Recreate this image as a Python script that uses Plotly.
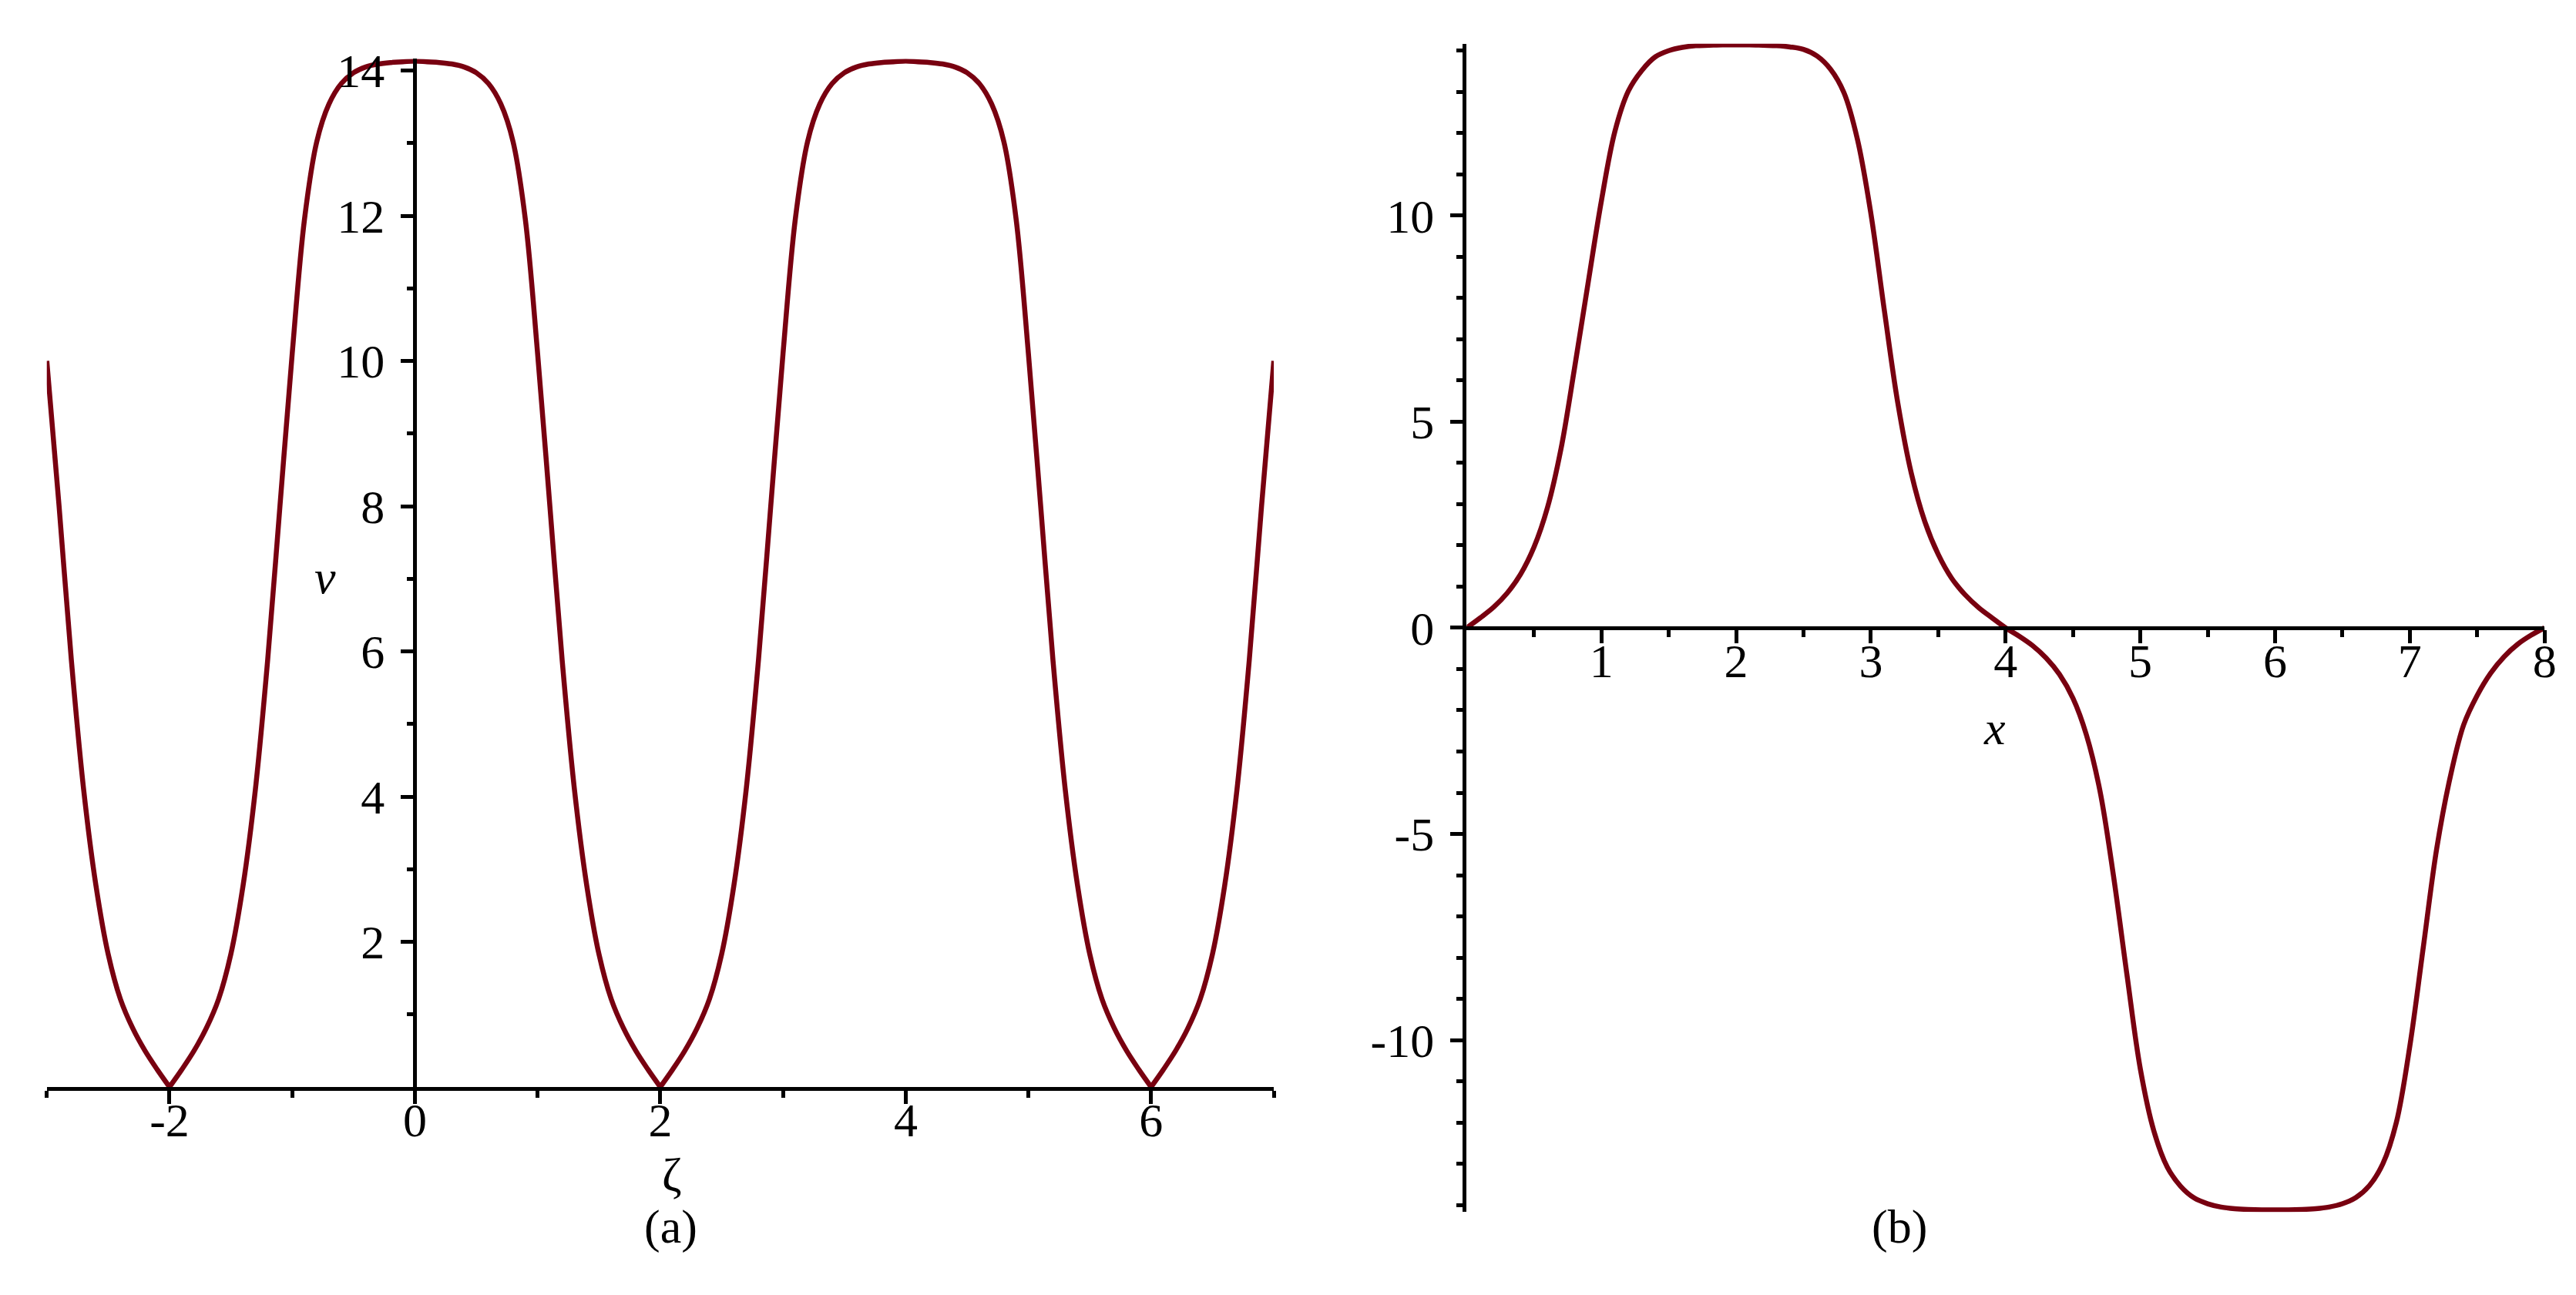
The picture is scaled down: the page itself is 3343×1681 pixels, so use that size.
import plotly.graph_objs as go

# (a) v against zeta
zeta = [-3.0, -2.9, -2.8, -2.7, -2.6, -2.5, -2.4, -2.3, -2.2, -2.1,
        -2.0, -1.9, -1.8, -1.7, -1.6, -1.5, -1.4, -1.3, -1.2, -1.1,
        -1.0, -0.9, -0.8, -0.7, -0.6, -0.5, -0.4, -0.3, -0.2, -0.1,
        0.0, 0.1, 0.2, 0.3, 0.4, 0.5, 0.6, 0.7, 0.8, 0.9,
        1.0, 1.1, 1.2, 1.3, 1.4, 1.5, 1.6, 1.7, 1.8, 1.9,
        2.0, 2.1, 2.2, 2.3, 2.4, 2.5, 2.6, 2.7, 2.8, 2.9,
        3.0, 3.1, 3.2, 3.3, 3.4, 3.5, 3.6, 3.7, 3.8, 3.9,
        4.0, 4.1, 4.2, 4.3, 4.4, 4.5, 4.6, 4.7, 4.8, 4.9,
        5.0, 5.1, 5.2, 5.3, 5.4, 5.5, 5.6, 5.7, 5.8, 5.9,
        6.0, 6.1, 6.2, 6.3, 6.4, 6.5, 6.6, 6.7, 6.8, 6.9, 7.0]
v = [10.0, 8.00, 5.88, 4.10, 2.78, 1.83, 1.21, 0.81, 0.50, 0.24,
     0.0, 0.24, 0.50, 0.81, 1.21, 1.83, 2.78, 4.10, 5.88, 8.00,
     10.10, 11.95, 13.02, 13.54, 13.82, 13.97, 14.05, 14.09, 14.11, 14.12,
     14.13, 14.12, 14.11, 14.09, 14.05, 13.97, 13.82, 13.54, 13.02, 11.95,
     10.10, 8.00, 5.88, 4.10, 2.78, 1.83, 1.21, 0.81, 0.50, 0.24,
     0.0, 0.24, 0.50, 0.81, 1.21, 1.83, 2.78, 4.10, 5.88, 8.00,
     10.10, 11.95, 13.02, 13.54, 13.82, 13.97, 14.05, 14.09, 14.11, 14.12,
     14.13, 14.12, 14.11, 14.09, 14.05, 13.97, 13.82, 13.54, 13.02, 11.95,
     10.10, 8.00, 5.88, 4.10, 2.78, 1.83, 1.21, 0.81, 0.50, 0.24,
     0.0, 0.24, 0.50, 0.81, 1.21, 1.83, 2.78, 4.10, 5.88, 8.00, 10.0]
cusp_idx = [0, 10, 50, 90, 100]   # where the curve touches zero (plus the ends)

# (b) u against x
xb = [0.0, 0.1, 0.2, 0.3, 0.4, 0.5, 0.6, 0.7, 0.8, 0.9,
      1.0, 1.1, 1.2, 1.3, 1.4, 1.5, 1.6, 1.7, 1.8, 1.9,
      2.0, 2.1, 2.2, 2.3, 2.4, 2.5, 2.6, 2.7, 2.8, 2.9,
      3.0, 3.1, 3.2, 3.3, 3.4, 3.5, 3.6, 3.7, 3.8, 3.9,
      4.0, 4.1, 4.2, 4.3, 4.4, 4.5, 4.6, 4.7, 4.8, 4.9,
      5.0, 5.1, 5.2, 5.3, 5.4, 5.5, 5.6, 5.7, 5.8, 5.9,
      6.0, 6.1, 6.2, 6.3, 6.4, 6.5, 6.6, 6.7, 6.8, 6.9,
      7.0, 7.1, 7.2, 7.3, 7.4, 7.5, 7.6, 7.7, 7.8, 7.9, 8.0]
u = [0.0, 0.24, 0.50, 0.84, 1.30, 1.96, 2.92, 4.34, 6.29, 8.34,
     10.36, 12.04, 13.02, 13.52, 13.85, 14.00, 14.08, 14.12, 14.13, 14.14,
     14.14, 14.14, 14.13, 14.12, 14.09, 14.03, 13.87, 13.55, 12.98, 11.85,
     10.05, 7.70, 5.45, 3.75, 2.58, 1.78, 1.20, 0.80, 0.49, 0.24,
     0.0, -0.20, -0.43, -0.73, -1.13, -1.71, -2.60, -3.95, -6.00, -8.40,
     -10.70, -12.20, -13.08, -13.55, -13.83, -13.97, -14.05, -14.09, -14.11, -14.12,
     -14.12, -14.12, -14.11, -14.09, -14.05, -13.97, -13.82, -13.53, -13.00, -12.00,
     -10.15, -7.75, -5.35, -3.62, -2.35, -1.64, -1.10, -0.70, -0.40, -0.18, 0.0]

a_xticks = [-2, 0, 2, 4, 6]
a_xminor = [-3, -1, 1, 3, 5, 7]
a_yticks = [2, 4, 6, 8, 10, 12, 14]
a_yminor = [1, 3, 5, 7, 9, 11, 13]
b_xticks = [1, 2, 3, 4, 5, 6, 7, 8]
b_xminor = [0.5, 1.5, 2.5, 3.5, 4.5, 5.5, 6.5, 7.5]
b_yticks = [-10, -5, 0, 5, 10]
b_yminor = [-14, -13, -12, -11, -9, -8, -7, -6, -4, -3, -2, -1,
            1, 2, 3, 4, 6, 7, 8, 9, 11, 12, 13, 14]

W, H = 3343, 1681
RED = 'rgb(120,0,16)'
FONT = 'Liberation Serif'
FS = 62

def px_x(p):
    return p / W

def px_y(p):
    return 1 - p / H

# panel boxes in pixels (left, right, top, bottom)
ax_l, ax_r, ax_t, ax_b = 53, 1653, 51, 1400
bx_l, bx_r, bx_t, bx_b = 1904.5, 3310, 31, 1564

curve = dict(color=RED, width=6.5, shape='spline', smoothing=1)

data = []
for i in range(len(cusp_idx) - 1):
    s, e = cusp_idx[i], cusp_idx[i + 1]
    data.append(go.Scatter(x=zeta[s:e + 1], y=v[s:e + 1], mode='lines', line=curve,
                           xaxis='x', yaxis='y', hoverinfo='skip'))
data.append(go.Scatter(x=xb, y=u, mode='lines', line=curve,
                       xaxis='x2', yaxis='y2', hoverinfo='skip'))

common = dict(showline=True, linecolor='black', linewidth=4.5, ticks='outside',
              tickcolor='black', tickwidth=4.5, ticklen=17, showgrid=False,
              zeroline=False, tickfont=dict(family=FONT, size=FS, color='black'))
minor = dict(ticks='outside', ticklen=9, tickwidth=4.5, tickcolor='black')

a_ypos = px_x(ax_l + (0 - (-3)) / 10 * (ax_r - ax_l))
b_xpos = px_y((bx_t + bx_b) / 2)

layout = go.Layout(
    width=W, height=H, margin=dict(l=0, r=0, t=0, b=0),
    paper_bgcolor='white', plot_bgcolor='white', showlegend=False,
    xaxis=dict(domain=[px_x(ax_l), px_x(ax_r)], range=[-3, 7], anchor='y',
               tickvals=a_xticks, ticktext=['-2', '0', '2', '4', '6'],
               minor=dict(tickvals=a_xminor, **minor),
               ticklabelstandoff=-32, **common),
    yaxis=dict(domain=[px_y(ax_b), px_y(ax_t)], range=[0, 14.16], anchor='free',
               position=a_ypos, tickvals=a_yticks,
               minor=dict(tickvals=a_yminor, **minor),
               ticklabelstandoff=8, **common),
    xaxis2=dict(domain=[px_x(bx_l), px_x(bx_r)], range=[0, 8], anchor='free',
                position=b_xpos, tickvals=b_xticks,
                minor=dict(tickvals=b_xminor, **minor),
                ticklabelstandoff=-30, **common),
    yaxis2=dict(domain=[px_y(bx_b), px_y(bx_t)], range=[-14.17, 14.17], anchor='x2',
                tickvals=b_yticks, ticktext=['-10', '-5', '0', '5', '10'],
                minor=dict(tickvals=b_yminor, **minor),
                ticklabelstandoff=8, **common),
    annotations=[
        dict(text='<i>v</i>', x=px_x(400), y=px_y(731), xref='paper', yref='paper',
             showarrow=False, font=dict(family=FONT, size=FS, color='black')),
        dict(text='ζ', x=px_x(853), y=px_y(1552), xref='paper', yref='paper',
             showarrow=False, font=dict(family=FONT, size=FS, color='black')),
        dict(text='(a)', x=px_x(830), y=px_y(1620), xref='paper', yref='paper',
             showarrow=False, font=dict(family=FONT, size=FS, color='black')),
        dict(text='<i>x</i>', x=px_x(2609), y=px_y(929), xref='paper', yref='paper',
             showarrow=False, font=dict(family=FONT, size=FS, color='black')),
        dict(text='(b)', x=px_x(2507), y=px_y(1620), xref='paper', yref='paper',
             showarrow=False, font=dict(family=FONT, size=FS, color='black')),
    ],
)

fig = go.Figure(data=data, layout=layout)
fig.write_html('out.html')
